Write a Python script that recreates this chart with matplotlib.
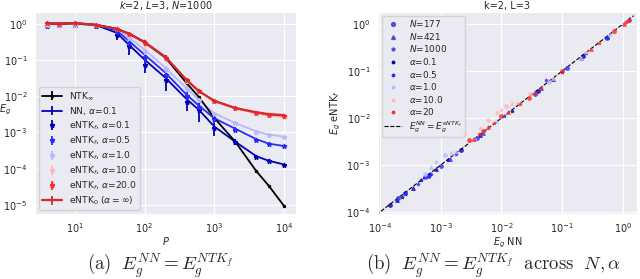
import numpy as np
import matplotlib
matplotlib.use("Agg")
import matplotlib.pyplot as plt
import seaborn as sns
from matplotlib.lines import Line2D

sns.set_style("darkgrid")
plt.rcParams['font.family'] = ['DejaVu Sans']
plt.rcParams['font.size'] = 6.5

# ---------------- data: left panel ----------------
P = [4, 6, 10, 20, 40, 60, 100, 200, 400, 600, 1000, 2000, 4000, 6000, 10000]
alphas = ["0.1", "0.5", "1.0", "10.0", "20.0"]
alpha_colors = ["#0000b4", "#2a2aff", "#b8b8ff", "#ffb8b8", "#ff2a2a"]

ntk_inf = [1.02, 1.0, 1.03, 0.93, 0.72, 0.53, 0.31, 0.115, 0.023, 0.0095, 0.0025, 5.5e-4, 8.5e-5, 3.4e-5, 9.3e-6]
ntk_inf_err = [0.01, 0.01, 0.01, 0.01, 0.01, 0.01, 0.01, 0.004, 0.001, 4e-4, 1e-4, 2e-5, 3e-6, 1e-6, 4e-7]

entk0 = [1.02, 1.0, 1.04, 0.93, 0.72, 0.53, 0.31, 0.12, 0.028, 0.0138, 0.0074, 0.0047, 0.0036, 0.0032, 0.0030]
entk0_err = [0.03, 0.03, 0.03, 0.03, 0.04, 0.04, 0.04, 0.02, 0.004, 0.0015, 6e-4, 3e-4, 2e-4, 1.5e-4, 1e-4]

nn_a01 = [1.0, 1.0, 1.0, 0.92, 0.56, 0.26, 0.102, 0.032, 0.0083, 0.0042, 0.00145, 5.5e-4, 2.2e-4, 1.65e-4, 1.3e-4]
nn_a05 = [1.0, 1.0, 1.0, 0.92, 0.65, 0.33, 0.14, 0.044, 0.011, 0.0055, 0.00245, 0.00126, 6.5e-4, 4.9e-4, 4.2e-4]
nn_a1 = [1.0, 1.0, 1.0, 0.93, 0.72, 0.41, 0.195, 0.06, 0.0166, 0.0079, 0.0034, 0.0018, 0.00107, 8.7e-4, 7.6e-4]
nn_a10 = [1.02, 1.0, 1.03, 0.93, 0.71, 0.52, 0.3, 0.115, 0.027, 0.0135, 0.0072, 0.0045, 0.0033, 0.0029, 0.0026]
nn_a20 = [1.02, 1.0, 1.04, 0.93, 0.72, 0.53, 0.31, 0.12, 0.028, 0.0138, 0.0074, 0.0047, 0.0035, 0.0031, 0.0029]
nn_err = [0.01, 0.01, 0.01, 0.01, 0.01, 0.01, 0.006, 0.002, 5e-4, 2e-4, 8e-5, 3e-5, 1e-5, 8e-6, 6e-6]

entk_a01 = [0.88, 0.9, 0.9, 0.85, 0.5, 0.24, 0.074, 0.028, 0.007, 0.0042, 0.0013, 5.4e-4, 2.1e-4, 1.6e-4, 1.28e-4]
entk_a01_err = [0.06, 0.06, 0.06, 0.06, 0.14, 0.1, 0.03, 0.0145, 0.003, 0.0023, 5e-4, 1e-4, 3e-5, 2e-5, 1e-5]
entk_a05 = [0.9, 0.92, 0.92, 0.88, 0.6, 0.3, 0.12, 0.038, 0.0098, 0.005, 0.0023, 0.0012, 6.2e-4, 4.8e-4, 4.1e-4]
entk_a05_err = [0.06, 0.06, 0.06, 0.06, 0.1, 0.08, 0.04, 0.012, 0.003, 0.0015, 5e-4, 2e-4, 6e-5, 4e-5, 2e-5]
entk_a1 = [0.92, 0.94, 0.94, 0.9, 0.7, 0.39, 0.18, 0.056, 0.016, 0.0077, 0.0033, 0.0018, 0.00105, 8.6e-4, 7.5e-4]
entk_a1_err = [0.06, 0.06, 0.06, 0.06, 0.08, 0.07, 0.04, 0.012, 0.003, 0.0013, 4e-4, 2e-4, 8e-5, 5e-5, 3e-5]
entk_a10 = [1.0, 1.0, 1.02, 0.92, 0.7, 0.5, 0.29, 0.11, 0.027, 0.014, 0.0072, 0.0046, 0.0034, 0.003, 0.0026]
entk_a10_err = [0.04, 0.04, 0.04, 0.04, 0.06, 0.06, 0.09, 0.03, 0.005, 0.002, 8e-4, 4e-4, 2e-4, 1.5e-4, 1.2e-4]
entk_a20 = [1.02, 1.0, 1.03, 0.93, 0.72, 0.52, 0.3, 0.115, 0.028, 0.014, 0.0074, 0.0047, 0.0035, 0.0031, 0.0029]
entk_a20_err = [0.04, 0.04, 0.04, 0.04, 0.05, 0.05, 0.06, 0.02, 0.004, 0.0015, 6e-4, 3e-4, 2e-4, 1.5e-4, 1e-4]

# ---------------- data: right panel ----------------
N_values = [177, 421, 1000]
N_markers = {177: "o", 421: "^", 1000: "*"}
alpha_labels_r = ["0.1", "0.5", "1.0", "10.0", "20"]

nn_r_a01 = [1.45e-4, 1.9e-4, 2.3e-4, 2.6e-4, 3.5e-4, 4.8e-4, 6.5e-4, 8.5e-4, 1.3e-3, 2.2e-3, 4.5e-3, 0.015, 0.04, 0.07, 0.1, 0.22, 0.55, 1.2]
ntk_r_a01 = [1.38e-4, 1.85e-4, 2.1e-4, 2.5e-4, 3.3e-4, 4.7e-4, 6.0e-4, 8.2e-4, 1.25e-3, 2.1e-3, 4.3e-3, 0.014, 0.038, 0.068, 0.095, 0.21, 0.52, 1.15]
N_r_a01 = [177, 421, 1000, 177, 421, 1000, 177, 421, 1000, 177, 421, 1000, 177, 421, 1000, 177, 421, 1000]

nn_r_a05 = [2.0e-4, 2.6e-4, 4.2e-4, 5.5e-4, 6.2e-4, 7.0e-4, 1.0e-3, 1.4e-3, 1.8e-3, 4.0e-3, 5.0e-3, 0.011, 0.035, 0.045, 0.054, 0.12, 0.2, 0.25, 0.55, 1.25]
ntk_r_a05 = [2.0e-4, 2.5e-4, 4.0e-4, 5.7e-4, 5.8e-4, 6.5e-4, 9.5e-4, 1.35e-3, 1.7e-3, 3.8e-3, 4.8e-3, 0.011, 0.033, 0.044, 0.065, 0.115, 0.19, 0.24, 0.5, 1.3]
N_r_a05 = [177, 421, 1000, 177, 421, 1000, 177, 421, 1000, 177, 421, 1000, 177, 421, 1000, 177, 421, 1000, 177, 421]

nn_r_a1 = [5.5e-4, 7.0e-4, 8.5e-4, 1.17e-3, 1.5e-3, 1.8e-3, 3.5e-3, 8e-3, 0.02, 0.06, 0.2, 0.6, 1.1]
ntk_r_a1 = [6.5e-4, 9.3e-4, 1.15e-3, 1.66e-3, 1.8e-3, 1.9e-3, 3.6e-3, 8.5e-3, 0.021, 0.058, 0.19, 0.58, 1.1]
N_r_a1 = [177, 421, 1000, 177, 421, 1000, 177, 421, 1000, 177, 421, 1000, 177]

nn_r_a10 = [2.4e-3, 3.0e-3, 4.5e-3, 6.0e-3, 8.5e-3, 0.01, 0.012, 0.015, 0.018, 0.03, 0.07, 0.25, 0.7, 1.05]
ntk_r_a10 = [4.5e-3, 3.4e-3, 6.0e-3, 9.0e-3, 0.0135, 0.015, 0.018, 0.021, 0.021, 0.032, 0.072, 0.25, 0.68, 1.05]
N_r_a10 = [177, 421, 1000, 177, 421, 1000, 177, 421, 1000, 177, 421, 1000, 177, 421]

nn_r_a20 = [2.9e-3, 3.5e-3, 4.2e-3, 5.0e-3, 6.0e-3, 7.5e-3, 0.01, 0.013, 0.02, 0.028, 0.035, 0.045, 0.1, 0.3, 0.4, 0.72, 1.05, 1.12, 1.25]
ntk_r_a20 = [3.4e-3, 3.6e-3, 4.6e-3, 5.2e-3, 6.6e-3, 8.0e-3, 0.011, 0.0135, 0.02, 0.027, 0.036, 0.043, 0.1, 0.29, 0.4, 0.7, 1.0, 1.1, 1.22]
N_r_a20 = [177, 421, 1000, 177, 421, 1000, 177, 421, 1000, 177, 421, 1000, 177, 421, 1000, 177, 421, 1000, 177]

# ---------------- figure ----------------
fig = plt.figure(figsize=(6.4, 2.79), dpi=100)
ax1 = fig.add_axes([0.0547, 0.233, 0.4078, 0.724])
ax2 = fig.add_axes([0.5906, 0.233, 0.4047, 0.724])

nn_list = [nn_a01, nn_a05, nn_a1, nn_a10, nn_a20]
entk_list = [entk_a01, entk_a05, entk_a1, entk_a10, entk_a20]
entk_err_list = [entk_a01_err, entk_a05_err, entk_a1_err, entk_a10_err, entk_a20_err]

ax1.errorbar(P, ntk_inf, yerr=ntk_inf_err, fmt='-', marker='.', ms=3, color='black',
             lw=1.3, elinewidth=1.3, label=r'NTK$_\infty$', zorder=3)
for i, (a, c) in enumerate(zip(alphas, alpha_colors)):
    ax1.errorbar(P, nn_list[i], yerr=nn_err, fmt='-', color=c, lw=1.3, elinewidth=1.3,
                 label=(r'NN, $\alpha$=0.1' if i == 0 else None), zorder=2)
for i, (a, c) in enumerate(zip(alphas, alpha_colors)):
    ax1.errorbar(P, entk_list[i], yerr=entk_err_list[i], fmt='*', ms=3.5, color=c,
                 elinewidth=1.3, label=r'eNTK$_f$, $\alpha$=' + a, zorder=4)
ax1.errorbar(P, entk0, yerr=entk0_err, fmt='-', color='#d42a2a', lw=1.6, elinewidth=1.3,
             label=r'eNTK$_0$ ($\alpha=\infty$)', zorder=5)

ax1.set_xscale('log')
ax1.set_yscale('log')
ax1.set_xlim(2.7, 14800)
ax1.set_ylim(5.6e-6, 2.1)
ax1.set_title(r'$k$=2, $L$=3, $N$=1000', fontsize=7, pad=2)
ax1.set_xlabel(r'$P$', fontsize=7, labelpad=0)
ax1.set_ylabel('')
ax1.text(-0.092, 0.515, r'$E_g$', transform=ax1.transAxes, fontsize=7,
         ha='right', va='center')
ax1.legend(loc='lower left', fontsize=6.6, borderaxespad=0.4, labelspacing=0.28,
           borderpad=0.35, handlelength=2.2)

# right panel
r_nn = [nn_r_a01, nn_r_a05, nn_r_a1, nn_r_a10, nn_r_a20]
r_ntk = [ntk_r_a01, ntk_r_a05, ntk_r_a1, ntk_r_a10, ntk_r_a20]
r_N = [N_r_a01, N_r_a05, N_r_a1, N_r_a10, N_r_a20]
for i, c in enumerate(alpha_colors):
    for n in N_values:
        xs = [x for x, k in zip(r_nn[i], r_N[i]) if k == n]
        ys = [y for y, k in zip(r_ntk[i], r_N[i]) if k == n]
        ax2.plot(xs, ys, linestyle='none', marker=N_markers[n], ms=2.8, color=c, alpha=0.8,
                 markeredgewidth=0.5)

all_x = sum(r_nn, [])
lo, hi = min(all_x) * 0.6, max(all_x) * 1.2
ax2.plot([lo, hi], [lo, hi], 'k--', lw=0.8, zorder=1)

ax2.set_xscale('log')
ax2.set_yscale('log')
ax2.set_xlim(9.3e-5, 1.7)
ax2.set_ylim(9.1e-5, 1.8)
ax2.set_title('k=2, L=3', fontsize=7, pad=2)
ax2.set_xlabel(r'$E_g$ NN', fontsize=7, labelpad=0)
ax2.set_ylabel(r'$E_g$ eNTK$_f$', fontsize=7, labelpad=2)

handles = [Line2D([], [], ls='none', marker=N_markers[n], ms=2.8, color='#3a3acc', alpha=0.8,
                  label=r'$N$=%d' % n) for n in N_values]
handles += [Line2D([], [], ls='none', marker='.', ms=3.5, color=c, label=r'$\alpha$=' + a)
            for a, c in zip(alpha_labels_r, alpha_colors)]
handles += [Line2D([], [], ls='--', color='k', lw=0.8, label=r'$E_g^{NN} = E_g^{eNTK_f}$')]
ax2.legend(handles=handles, loc='upper left', fontsize=6.4, borderaxespad=0.4,
           labelspacing=0.18, borderpad=0.3, handlelength=2.0)

for ax in (ax1, ax2):
    ax.tick_params(labelsize=7, pad=2)
    ax.minorticks_off()

fig.text(0.25, 0.032, r'$\mathrm{(a)}\ \ E_g^{NN} = E_g^{NTK_f}$', fontsize=13.5,
         math_fontfamily='cm', ha='center', va='baseline')
fig.text(0.771, 0.032, r'$\mathrm{(b)}\ \ E_g^{NN} = E_g^{NTK_f}\ \ \mathrm{across}\ \ N,\alpha$',
         fontsize=13.5, math_fontfamily='cm', ha='center', va='baseline')

fig.savefig('out.png', dpi=100)
